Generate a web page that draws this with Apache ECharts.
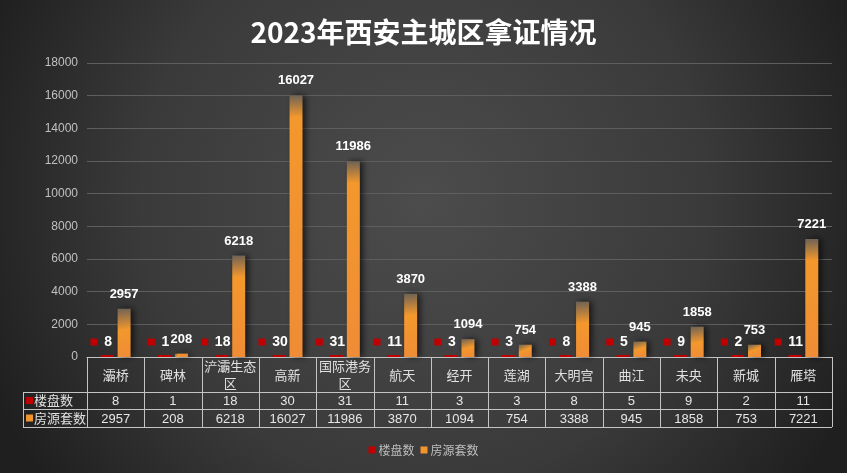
<!DOCTYPE html>
<html><head><meta charset="utf-8">
<script src="https://cdn.jsdelivr.net/npm/echarts@6/dist/echarts.min.js"></script>
<style>html,body{margin:0;padding:0;background:#333}#c{width:847px;height:473px}</style>
</head><body><div id="c"></div>
<script>
const chartTitle = '2023年西安主城区拿证情况';
const categories = ['灞桥','碑林','浐灞生态区','高新','国际港务区','航天','经开','莲湖','大明宫','曲江','未央','新城','雁塔'];
const seriesNames = ['楼盘数','房源套数'];
const projects = [8,1,18,30,31,11,3,3,8,5,9,2,11];
const units = [2957,208,6218,16027,11986,3870,1094,754,3388,945,1858,753,7221];
const yMin = 0, yMax = 18000, yStep = 2000;

const RED = '#c00000', ORANGE = '#f0962c';
const FONT = "'Liberation Sans','Noto Sans CJK SC',sans-serif";
const GL = 87, GR = 15, GT = 63, GB = 116;
const W = 847, H = 473;
const plotH = H - GT - GB;

const chart = echarts.init(document.getElementById('c'));

function orangeItem(v) {
  const hpx = v / yMax * plotH;
  const s = Math.min(0.55, 22 / Math.max(hpx, 1));
  return {
    value: v,
    itemStyle: {
      color: new echarts.graphic.LinearGradient(0, 0, 0.4, 1, [
        {offset: 0, color: '#6e6256'},
        {offset: s, color: '#f3982c'},
        {offset: 1, color: '#ef8c36'}
      ])
    }
  };
}

function wrap(name) {
  return name.length > 4 ? name.slice(0, 4) + '\n' + name.slice(4) : name;
}

// table graphics
const L = GL, R = W - GR, cw = (R - L) / categories.length;
const yAxisLine = H - GB, yRow1 = 392, yRow2 = 409, yEnd = 427, LX = 23;
const lineStyle = {stroke: '#c4c4c4', lineWidth: 1};
const graphics = [];
for (let i = 0; i <= categories.length; i++) {
  const x = Math.round(L + i * cw) + 0.5;
  graphics.push({type: 'line', shape: {x1: x, y1: yAxisLine, x2: x, y2: yEnd}, style: lineStyle, silent: true});
}
graphics.push({type: 'line', shape: {x1: LX + 0.5, y1: yRow1, x2: LX + 0.5, y2: yEnd}, style: lineStyle, silent: true});
[yRow1, yRow2, yEnd].forEach(y => {
  graphics.push({type: 'line', shape: {x1: LX, y1: y + 0.5, x2: R, y2: y + 0.5}, style: lineStyle, silent: true});
});
[[RED, seriesNames[0], (yRow1 + yRow2) / 2], [ORANGE, seriesNames[1], (yRow2 + yEnd) / 2]].forEach(([c, n, y]) => {
  graphics.push({type: 'rect', shape: {x: LX + 3, y: y - 3.5, width: 7, height: 7}, style: {fill: c}, silent: true});
  graphics.push({type: 'text', x: LX + 11, y: y, style: {text: n, fill: '#e0e0e0', font: "13px 'Noto Sans CJK SC'", verticalAlign: 'middle', align: 'left'}, silent: true});
});

const option = {
  backgroundColor: {
    type: 'radial', x: 0.5, y: 0.42, r: 1.0,
    colorStops: [{offset: 0, color: '#4c4c4c'}, {offset: 0.6, color: '#3a3a3a'}, {offset: 1, color: '#1f1f1f'}]
  },
  animation: false,
  title: {
    text: chartTitle, left: 'center', top: 13,
    textStyle: {color: '#ffffff', fontSize: 28, fontWeight: 'bold', fontFamily: "'Noto Sans CJK SC'"}
  },
  legend: {
    bottom: 12, left: 'center', itemWidth: 7, itemHeight: 7, itemGap: 6,
    icon: 'rect',
    textStyle: {color: '#bdbdbd', fontSize: 12, fontFamily: "'Noto Sans CJK SC'", padding: [0, 0, 0, -2]},
    data: [
      {name: seriesNames[0], itemStyle: {color: RED}},
      {name: seriesNames[1], itemStyle: {color: ORANGE}}
    ]
  },
  grid: {left: GL, right: GR, top: GT, bottom: GB},
  xAxis: [
    {
      type: 'category', data: categories,
      axisLine: {show: true, lineStyle: {color: '#c4c4c4', width: 1}},
      axisTick: {show: false},
      axisLabel: {interval: 0, color: '#e0e0e0', fontSize: 13, fontFamily: "'Noto Sans CJK SC'",
        lineHeight: 17, verticalAlign: 'middle', margin: 18, formatter: v => wrap(v)}
    },
    {
      type: 'category', data: categories, position: 'bottom',
      axisLine: {show: false}, axisTick: {show: false}, splitLine: {show: false},
      axisLabel: {interval: 0, color: '#e6e6e6', fontSize: 13, fontFamily: FONT,
        verticalAlign: 'middle', margin: 44, formatter: (v, i) => String(projects[i])}
    },
    {
      type: 'category', data: categories, position: 'bottom',
      axisLine: {show: false}, axisTick: {show: false}, splitLine: {show: false},
      axisLabel: {interval: 0, color: '#e6e6e6', fontSize: 13, fontFamily: FONT,
        verticalAlign: 'middle', margin: 62, formatter: (v, i) => String(units[i])}
    }
  ],
  yAxis: {
    type: 'value', min: yMin, max: yMax, interval: yStep,
    axisLine: {show: false}, axisTick: {show: false},
    axisLabel: {color: '#c0c0c0', fontSize: 12, fontFamily: FONT, margin: 9, formatter: v => String(v)},
    splitLine: {lineStyle: {color: '#5e5e5e', width: 1}}
  },
  series: [
    {
      name: seriesNames[0], type: 'bar', xAxisIndex: 0, data: projects,
      barWidth: 13, barGap: '30%', barMinHeight: 2,
      itemStyle: {color: RED},
      label: {
        show: true, position: 'top', distance: 6, offset: [-6, 0],
        formatter: p => '{s|}  {v|' + p.value + '}',
        rich: {
          s: {width: 7, height: 7, backgroundColor: RED},
          v: {color: '#ffffff', fontSize: 14, fontWeight: 'bold', fontFamily: FONT}
        }
      }
    },
    {
      name: seriesNames[1], type: 'bar', xAxisIndex: 0, data: units.map(orangeItem),
      barWidth: 13, barGap: '30%',
      itemStyle: {shadowColor: 'rgba(0,0,0,0.65)', shadowBlur: 6, shadowOffsetX: 3, shadowOffsetY: 0},
      label: {show: true, position: 'top', distance: 8, color: '#ffffff', fontSize: 13, fontWeight: 'bold', fontFamily: FONT}
    }
  ],
  graphic: graphics
};
chart.setOption(option);
</script></body></html>
